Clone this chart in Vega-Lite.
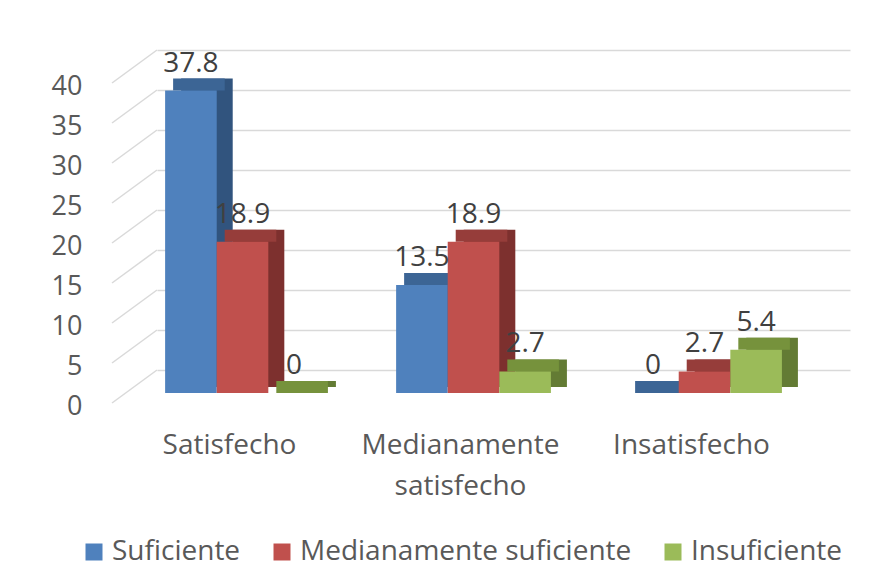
{
  "$schema": "https://vega.github.io/schema/vega-lite/v6.json",
  "width": 693,
  "height": 320,
  "autosize": "none",
  "padding": {"left": 157, "top": 50, "right": 45, "bottom": 218},
  "background": "white",
  "config": {
    "view": {"stroke": null},
    "font": "Open Sans",
    "axis": {"labelFont": "Open Sans", "labelFontSize": 27, "labelColor": "#595959"},
    "legend": {"labelFont": "Open Sans", "labelFontSize": 28, "labelColor": "#595959"}
  },
  "datasets": {
    "bars": [
      {"cat": "Satisfecho", "serie": "Suficiente", "v": 37.8},
      {"cat": "Satisfecho", "serie": "Medianamente suficiente", "v": 18.9},
      {"cat": "Satisfecho", "serie": "Insuficiente", "v": 0},
      {"cat": "Medianamente satisfecho", "serie": "Suficiente", "v": 13.5},
      {"cat": "Medianamente satisfecho", "serie": "Medianamente suficiente", "v": 18.9},
      {"cat": "Medianamente satisfecho", "serie": "Insuficiente", "v": 2.7},
      {"cat": "Insatisfecho", "serie": "Suficiente", "v": 0},
      {"cat": "Insatisfecho", "serie": "Medianamente suficiente", "v": 2.7},
      {"cat": "Insatisfecho", "serie": "Insuficiente", "v": 5.4}
    ],
    "grid": [
      {"v": 0}, {"v": 5}, {"v": 10}, {"v": 15}, {"v": 20},
      {"v": 25}, {"v": 30}, {"v": 35}, {"v": 40}
    ]
  },
  "encoding": {
    "y": {"field": "v", "type": "quantitative", "stack": null, "scale": {"domain": [0, 40]},
          "axis": {"values": [0,5,10,15,20,25,30,35,40], "grid": true, "gridColor": "#d9d9d9", "gridWidth": 1.5,
                   "domain": false, "ticks": false, "labelPadding": 75, "labelOffset": 36, "labelOverlap": false, "title": null}}
  },
  "resolve": {"scale": {"fill": "independent", "xOffset": "independent"}},
  "layer": [
    {
      "data": {"name": "grid"},
      "mark": {"type": "rule", "color": "#d9d9d9", "strokeWidth": 1.5, "xOffset": -45, "yOffset": 33, "x2Offset": 0, "y2Offset": 0},
      "encoding": {
        "x": {"value": 0},
        "x2": {"value": 0},
        "y2": {"field": "v"}
      }
    },
    {
      "data": {"name": "bars"},
      "mark": {"type": "bar", "yOffset": 11, "y2Offset": 17},
      "encoding": {
        "x": {"field": "cat", "type": "nominal", "sort": null,
              "scale": {"paddingInner": 0.33, "paddingOuter": 0.165},
              "axis": {"title": null, "domain": false, "ticks": false, "labelAngle": 0, "labelPadding": 83,
                       "labelOffset": -43, "labelLineHeight": 41, "labelBaseline": "alphabetic", "labelLimit": 400,
                       "labelFontSize": 28,
                       "labelExpr": "datum.value == 'Medianamente satisfecho' ? ['Medianamente', 'satisfecho'] : datum.label"}},
        "xOffset": {"field": "serie", "type": "nominal", "sort": null, "scale": {"range": [-14, 140.8]}},
        "y2": {"datum": 0},
        "fill": {"field": "serie", "type": "nominal", "sort": null, "legend": null,
                 "scale": {"domain": ["Suficiente", "Medianamente suficiente", "Insuficiente"], "range": ["#31547e", "#7d302e", "#637b34"]}}
      }
    },
    {
      "data": {"name": "bars"},
      "mark": {"type": "bar", "yOffset": 11, "y2Offset": 23},
      "encoding": {
        "x": {"field": "cat", "type": "nominal", "sort": null},
        "xOffset": {"field": "serie", "type": "nominal", "sort": null, "scale": {"range": [-22, 132.8]}},
        "y2": {"field": "v"},
        "fill": {"field": "serie", "type": "nominal", "sort": null, "legend": null,
                 "scale": {"domain": ["Suficiente", "Medianamente suficiente", "Insuficiente"], "range": ["#3c6595", "#963d3a", "#76923c"]}}
      }
    },
    {
      "data": {"name": "bars"},
      "mark": {"type": "bar", "yOffset": 23, "y2Offset": 23},
      "encoding": {
        "x": {"field": "cat", "type": "nominal", "sort": null},
        "xOffset": {"field": "serie", "type": "nominal", "sort": null, "scale": {"range": [-30, 124.8]}},
        "y2": {"datum": 0},
        "color": {"field": "serie", "type": "nominal", "sort": null,
                  "scale": {"domain": ["Suficiente", "Medianamente suficiente", "Insuficiente"], "range": ["#4f81bd", "#c0504d", "#9bbb59"]},
                  "legend": {"title": null, "orient": "none", "direction": "horizontal", "legendX": -77, "legendY": 488,
                             "symbolType": "square", "symbolSize": 289, "symbolStrokeWidth": 0, "labelOffset": 4,
                             "columnPadding": 27, "padding": 0, "labelLimit": 500}}
      }
    },
    {
      "data": {"name": "bars"},
      "mark": {"type": "text", "dy": 4, "baseline": "alphabetic", "align": "center", "fontSize": 28, "font": "Open Sans", "color": "#404040"},
      "encoding": {
        "x": {"field": "cat", "type": "nominal", "sort": null},
        "xOffset": {"field": "serie", "type": "nominal", "sort": null, "scale": {"range": [-30, 124.8]}},
        "text": {"field": "v", "type": "quantitative"}
      }
    }
  ]
}
